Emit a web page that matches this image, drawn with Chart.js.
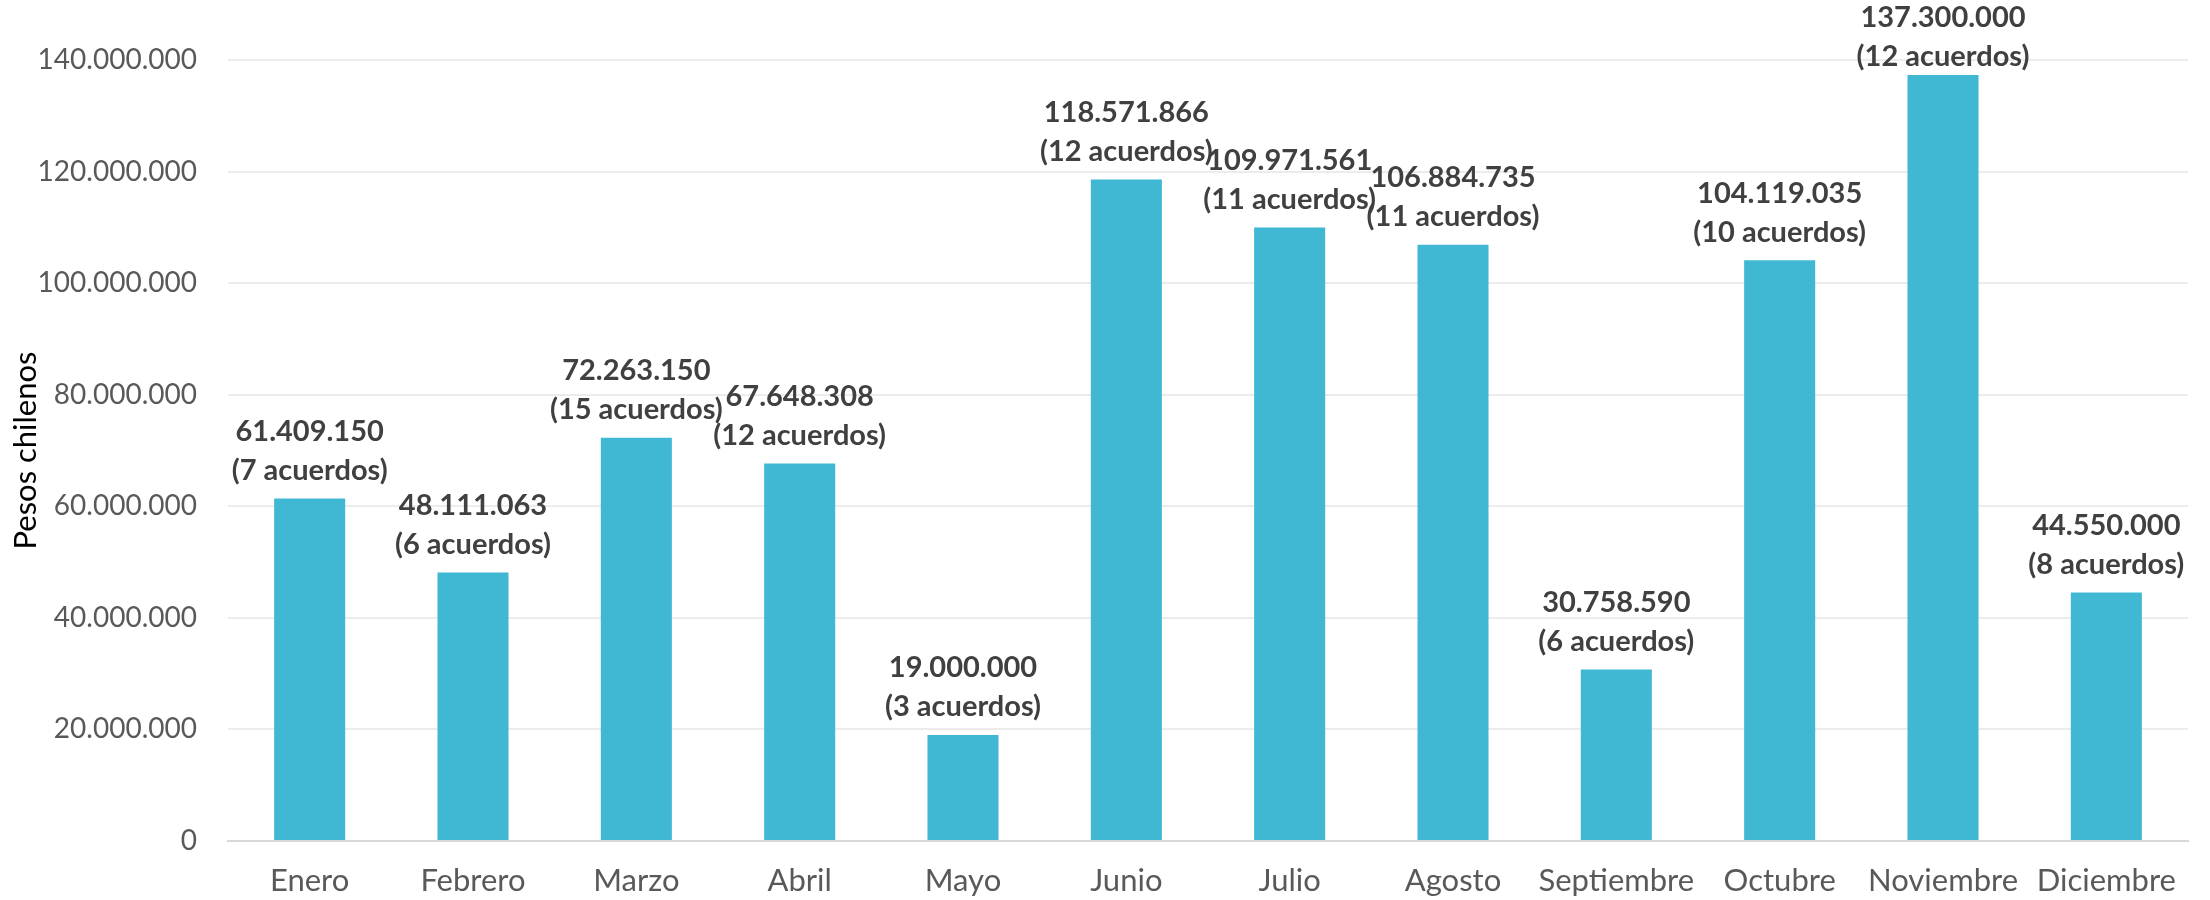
<!DOCTYPE html>
<html lang="es">
<head>
    <meta charset="UTF-8">
    <title>Montos por mes</title>
    <style>
        html, body { margin: 0; padding: 0; background: #ffffff; }
        #wrap { width: 2210px; height: 900px; }
    </style>
</head>
<body>
    <div id="wrap">
        <canvas id="montos-chart" width="2210" height="900"></canvas>
    </div>
    <script src="https://cdn.jsdelivr.net/npm/chart.js"></script>
    <script>
        // Datos
        const meses = ['Enero', 'Febrero', 'Marzo', 'Abril', 'Mayo', 'Junio', 'Julio', 'Agosto', 'Septiembre', 'Octubre', 'Noviembre', 'Diciembre'];
        const montos = [61409150, 48111063, 72263150, 67648308, 19000000, 118571866, 109971561, 106884735, 30758590, 104119035, 137300000, 44550000];
        const acuerdos = [7, 6, 15, 12, 3, 12, 11, 11, 6, 10, 12, 8];
        const ejeMax = 140000000;
        const ejePaso = 20000000;

        // miles con punto, como en el original
        function formatoMiles(n) {
            return String(Math.round(n)).replace(/\B(?=(\d{3})+(?!\d))/g, '.');
        }

        // etiquetas de dos líneas sobre cada barra
        const etiquetasBarras = {
            id: 'etiquetasBarras',
            afterDatasetsDraw(chart) {
                const ctx = chart.ctx;
                const meta = chart.getDatasetMeta(0);
                ctx.save();
                ctx.font = 'bold 29px Lato';
                ctx.fillStyle = '#404040';
                ctx.textAlign = 'center';
                ctx.textBaseline = 'middle';
                meta.data.forEach(function (bar, i) {
                    let linea2 = bar.y - 28;
                    let linea1 = linea2 - 39;
                    if (linea1 < 18) {
                        linea2 += 18 - linea1;
                        linea1 = 18;
                    }
                    ctx.fillText(formatoMiles(montos[i]), bar.x, linea1);
                    ctx.fillText('(' + acuerdos[i] + ' acuerdos)', bar.x, linea2);
                });
                ctx.restore();
            }
        };

        const config = {
            type: 'bar',
            data: {
                labels: meses,
                datasets: [{
                    label: 'Pesos chilenos',
                    data: montos,
                    backgroundColor: '#41b8d3',
                    borderWidth: 0,
                    categoryPercentage: 1,
                    barPercentage: 0.435
                }]
            },
            options: {
                responsive: false,
                animation: false,
                layout: {
                    padding: { top: 60, right: 22, left: 0, bottom: 0 }
                },
                plugins: {
                    legend: { display: false },
                    tooltip: { enabled: false }
                },
                scales: {
                    x: {
                        grid: { display: false, drawTicks: false },
                        border: { display: true, color: '#d9d9d9', width: 2 },
                        ticks: {
                            color: '#595959',
                            font: { family: 'Lato', size: 31 },
                            padding: 21,
                            maxRotation: 0,
                            autoSkip: false
                        },
                        afterFit(scale) { scale.height = 59; }
                    },
                    y: {
                        min: 0,
                        max: ejeMax,
                        grid: {
                            drawTicks: false,
                            lineWidth: 2,
                            color: function (c) {
                                return c.tick && c.tick.value === 0 ? '#d9d9d9' : '#ececec';
                            }
                        },
                        border: { display: false },
                        ticks: {
                            stepSize: ejePaso,
                            color: '#595959',
                            font: { family: 'Lato', size: 28 },
                            padding: 31,
                            callback: function (v) { return formatoMiles(v); }
                        },
                        title: {
                            display: true,
                            text: 'Pesos chilenos',
                            color: '#000000',
                            font: { family: 'Lato', size: 31 },
                            padding: { top: 7, bottom: 0 }
                        },
                        afterFit(scale) { scale.width = 228; }
                    }
                }
            },
            plugins: [etiquetasBarras]
        };

        const montosChart = new Chart(document.getElementById('montos-chart'), config);
    </script>
</body>
</html>
